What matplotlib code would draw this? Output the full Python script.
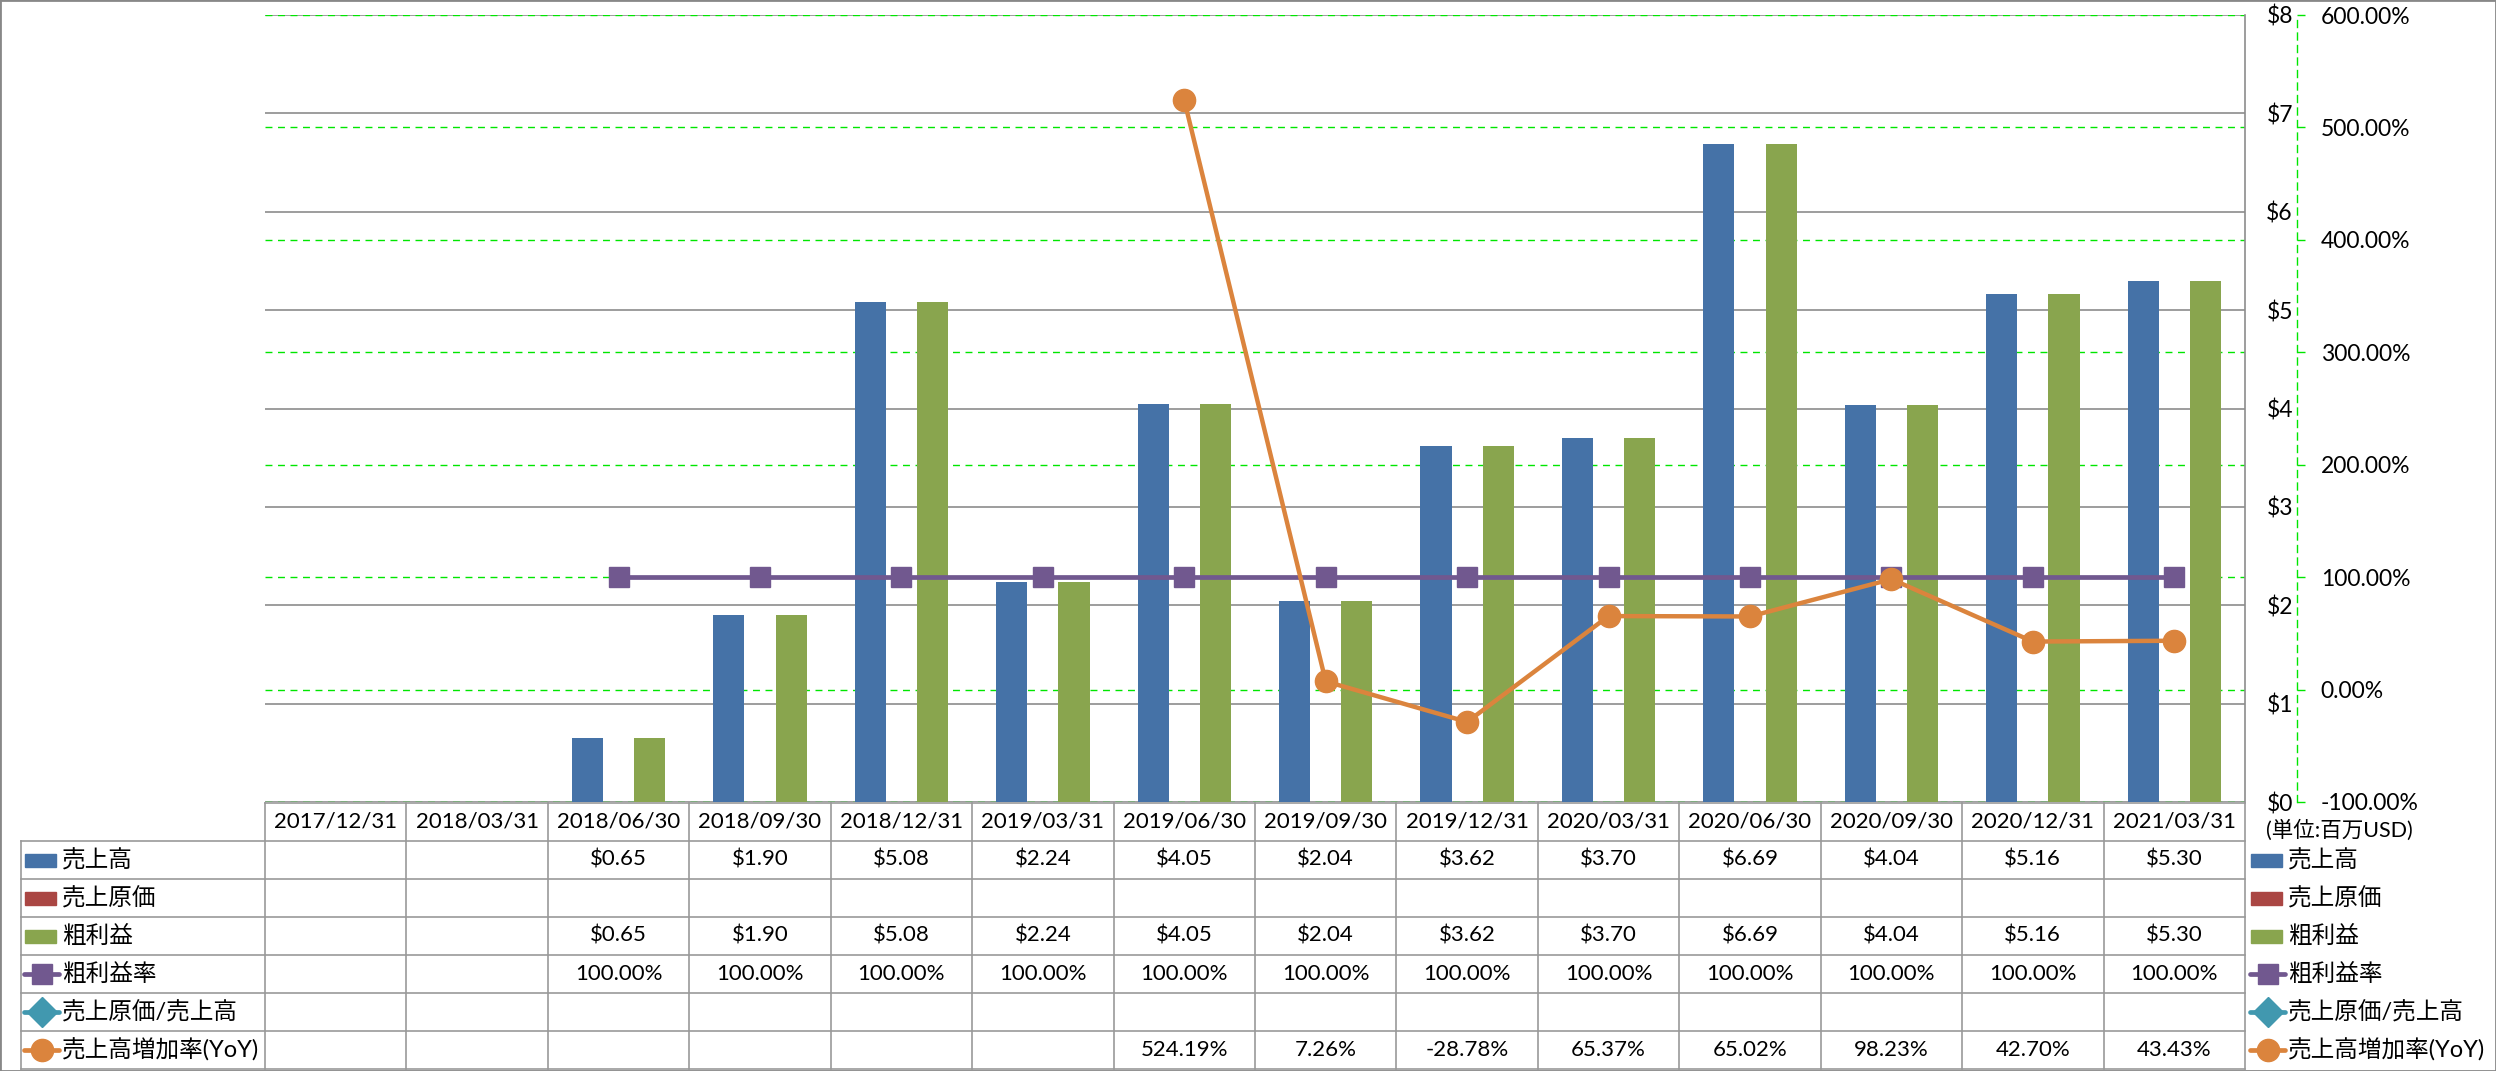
import numpy as np
import matplotlib.pyplot as plt
from matplotlib.patches import Rectangle

plt.rcParams['font.family'] = ['Lato', 'Noto Sans CJK JP', 'DejaVu Sans']

# data (millions USD / percent)
dates = ['2017/12/31', '2018/03/31', '2018/06/30', '2018/09/30', '2018/12/31',
         '2019/03/31', '2019/06/30', '2019/09/30', '2019/12/31', '2020/03/31',
         '2020/06/30', '2020/09/30', '2020/12/31', '2021/03/31']
nan = np.nan
sales = [nan, nan, 0.65, 1.90, 5.08, 2.24, 4.05, 2.04, 3.62, 3.70, 6.69, 4.04, 5.16, 5.30]
cost = [nan] * 14
gross = [nan, nan, 0.65, 1.90, 5.08, 2.24, 4.05, 2.04, 3.62, 3.70, 6.69, 4.04, 5.16, 5.30]
gross_margin = [nan, nan] + [100.0] * 12
cost_ratio = [nan] * 14
yoy = [nan] * 6 + [524.19, 7.26, -28.78, 65.37, 65.02, 98.23, 42.70, 43.43]

names = ['売上高', '売上原価', '粗利益', '粗利益率', '売上原価/売上高', '売上高増加率(YoY)']
c_sales, c_cost, c_gross = '#4572A7', '#AA4643', '#89A54E'
c_margin, c_ratio, c_yoy = '#71588F', '#4198AF', '#DB843D'
grid_gray = '#8c8c8c'
green = '#00e600'

W, H = 2496, 1071
fig = plt.figure(figsize=(W / 100, H / 100), dpi=100)

L, R, T, B = 265, 2245, 15, 802
ax = fig.add_axes([L / W, (H - B) / H, (R - L) / W, (B - T) / H])
x = np.arange(len(dates))
bw = 0.22
ax.bar(x - bw, sales, bw, color=c_sales, zorder=2)
ax.bar(x, cost, bw, color=c_cost, zorder=2)
ax.bar(x + bw, gross, bw, color=c_gross, zorder=2)
ax.set_xlim(-0.5, 13.5)
ax.set_ylim(0, 8)
ax.set_xticks([])
ax.set_yticks(range(9))
ax.set_yticklabels(['$%d' % v for v in range(9)])
ax.yaxis.grid(True, color=grid_gray, lw=1.2)
ax.set_axisbelow(True)
# secondary-axis grid drawn here so it stays behind the bars
for p in range(-100, 601, 100):
    ax.axhline((p + 100) / 700 * 8, color=green, lw=1, ls=(0, (5, 4)), zorder=0.6)

sp = 1 + 52 / (R - L)
for s in ['top', 'bottom']:
    ax.spines[s].set_visible(False)
ax.spines['left'].set_position(('axes', sp))
ax.spines['left'].set_visible(False)
ax.spines['right'].set_color(grid_gray)
ax.spines['right'].set_linewidth(1.2)
ax.tick_params(axis='y', length=0, pad=3, labelsize=16.5)

ax2 = ax.twinx()
ax2.set_ylim(-100, 600)
ax2.set_yticks(range(-100, 601, 100))
ax2.set_yticklabels(['%.2f%%' % v for v in range(-100, 601, 100)])
ax2.get_yticklabels()[0].set_color('red')
for s in ['top', 'bottom', 'left']:
    ax2.spines[s].set_visible(False)
ax2.spines['right'].set_position(('axes', sp))
ax2.spines['right'].set_color(green)
ax2.spines['right'].set_linestyle((0, (5, 4)))
ax2.spines['right'].set_linewidth(1)
ax2.tick_params(axis='y', length=6, width=1, color=green, pad=11, labelsize=16.5)

ax2.plot(x, gross_margin, color=c_margin, lw=3.4, marker='s', ms=15, zorder=3)
ax2.plot(x, cost_ratio, color=c_ratio, lw=3.4, marker='D', ms=15, zorder=3)
ax2.plot(x, yoy, color=c_yoy, lw=3.2, marker='o', ms=16, zorder=4)

fig.text(2266 / W, 1 - 830 / H, '(単位:百万USD)', ha='left', va='center', fontsize=15.5)

# data table
TT, TB = 803, 1069
tab = fig.add_axes([L / W, (H - TB) / H, (R - L) / W, (TB - TT) / H])
tab.set_xlim(-0.5, 13.5)
tab.set_ylim(7, 0)
tab.axis('off')
cw = (R - L) / 14


def dx(px):
    return -0.5 + (px - L) / cw


lc = '#999999'
kw = dict(color=lc, lw=1.2, clip_on=False)
tab.plot([-0.5, 13.5], [0, 0], **kw)
for r in range(1, 8):
    tab.plot([dx(21), 13.5], [r, r], **kw)
for k in range(15):
    tab.plot([k - 0.5, k - 0.5], [0, 7], **kw)
tab.plot([dx(21), dx(21)], [1, 7], **kw)

for i, d in enumerate(dates):
    tab.text(i, 0.5, d, ha='center', va='center', fontsize=16)

rows = [sales, cost, gross, gross_margin, cost_ratio, yoy]
fmts = ['$%.2f', '$%.2f', '$%.2f', '%.2f%%', '%.2f%%', '%.2f%%']
for r, (vals, f) in enumerate(zip(rows, fmts), start=1):
    for i, v in enumerate(vals):
        if not np.isnan(v):
            tab.text(i, r + 0.5, f % v, ha='center', va='center', fontsize=16)

styles = [(c_sales, None), (c_cost, None), (c_gross, None),
          (c_margin, 's'), (c_ratio, 'D'), (c_yoy, 'o')]


def legend_entry(x0, yc, color, marker, label):
    if marker is None:
        h = 13 / 38
        tab.add_patch(Rectangle((dx(x0 + 1), yc - h / 2), 31 / cw, h,
                                color=color, clip_on=False))
    else:
        tab.plot([dx(x0), dx(x0 + 35)], [yc, yc], color=color, lw=3.4,
                 solid_capstyle='round', clip_on=False)
        tab.plot([dx(x0 + 17.5)], [yc], color=color, marker=marker,
                 ms=15 if marker != 'o' else 16, clip_on=False)
    tab.text(dx(x0 + 38), yc, label, ha='left', va='center', fontsize=17)


for r, (name, (col, mk)) in enumerate(zip(names, styles), start=1):
    legend_entry(24, r + 0.5, col, mk, name)
    legend_entry(2250, r + 0.5, col, mk, name)

fig.patches.append(Rectangle((0, 0), 1, 1, transform=fig.transFigure,
                             fill=False, edgecolor='#888888', lw=2))

fig.savefig('out.png', dpi=100)
